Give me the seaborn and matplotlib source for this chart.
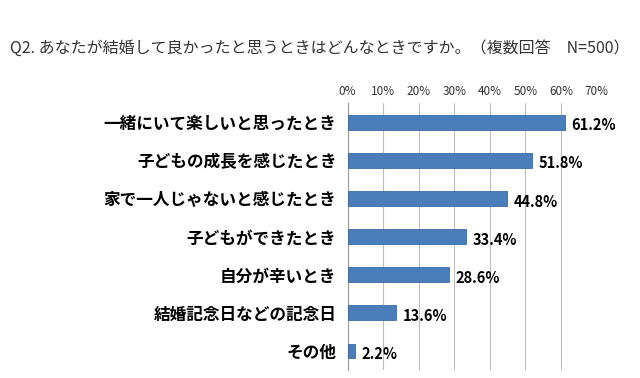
import numpy as np
import pandas as pd
import seaborn as sns
from matplotlib import pyplot as plt

categories = ['一緒にいて楽しいと思ったとき', '子どもの成長を感じたとき', '家で一人じゃないと感じたとき',
              '子どもができたとき', '自分が辛いとき', '結婚記念日などの記念日', 'その他']
values = [61.2, 51.8, 44.8, 33.4, 28.6, 13.6, 2.2]
xticks = [0, 10, 20, 30, 40, 50, 60, 70]

sns.set_style("white")
plt.rcParams['font.family'] = ['Noto Sans CJK JP', 'DejaVu Sans']

df = pd.DataFrame({'item': categories, 'pct': values})

fig = plt.figure(figsize=(6.4, 3.78), dpi=100)
ax = fig.add_axes([0.543, 0.021, 0.389, 0.706])

sns.barplot(data=df, x='pct', y='item', color='#4A7EBB', saturation=1, width=0.39,
            edgecolor='#3C6AA3', linewidth=0.6, ax=ax, zorder=3)

ax.set_xlim(0, 70)
ax.set_ylim(6.5, -0.5)
ax.set_xticks(xticks)
ax.set_xticklabels(['%d%%' % t for t in xticks], fontsize=8.5, color='#333333')
ax.xaxis.tick_top()
ax.tick_params(axis='x', length=0, pad=4)
ax.grid(axis='x', color='#BFBFBF', lw=0.8, zorder=0)

# category labels + tick marks between categories
ax.set_yticks(range(len(categories)))
ax.set_yticklabels(categories, fontsize=12, fontweight='bold', color='black')
ax.tick_params(axis='y', length=0, pad=8)
ax.set_yticks(np.arange(-0.5, len(categories), 1), minor=True)
ax.tick_params(axis='y', which='minor', length=4, color='#999999', width=0.8)

for s in ['top', 'right', 'bottom']:
    ax.spines[s].set_visible(False)
ax.spines['left'].set_color('#999999')
ax.spines['left'].set_linewidth(0.8)
ax.set_xlabel('')
ax.set_ylabel('')

for i, v in enumerate(values):
    ax.text(v + 1.8, i + 0.08, '%.1f%%' % v, va='center', ha='left',
            fontsize=10.5, fontweight='bold', color='black')

fig.text(0.016, 0.873, 'Q2. あなたが結婚して良かったと思うときはどんなときですか。（複数回答　N=500）',
         fontsize=11.5, color='#333333', va='center')

plt.savefig('out.png', dpi=100)
